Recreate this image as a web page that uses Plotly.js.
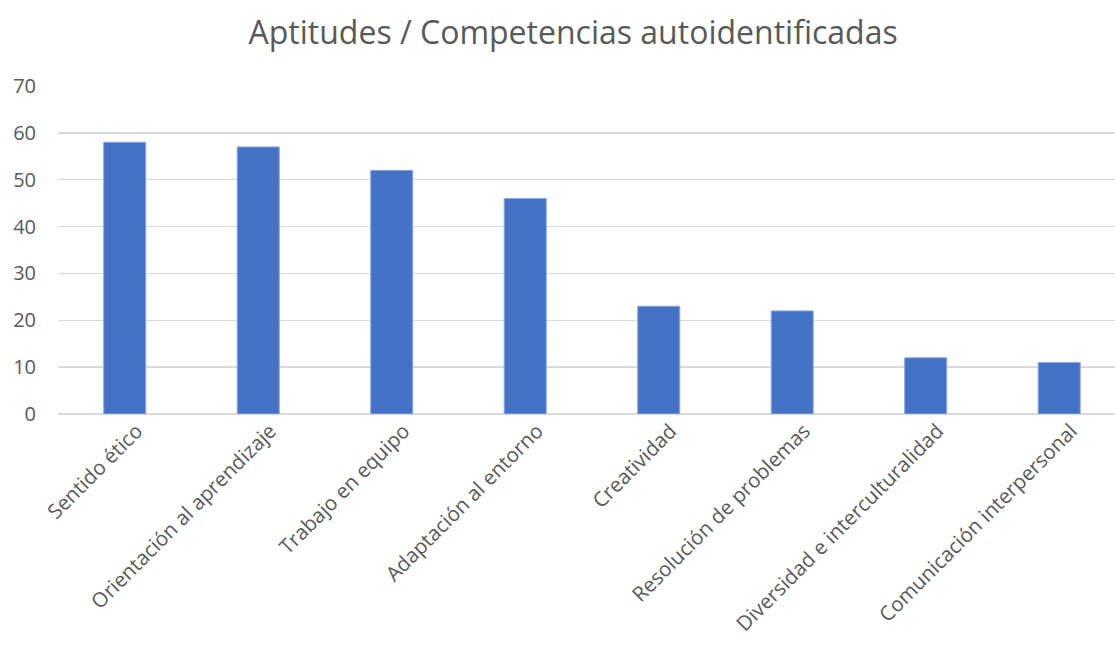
<!DOCTYPE html>
<html>
<head>
<meta charset="utf-8">
<script src="https://cdn.plot.ly/plotly-3.0.1.min.js"></script>
<style>html,body{margin:0;padding:0;background:#fff;}#chart{width:1115px;height:646px;}</style>
</head>
<body>
<div id="chart"></div>
<script>
const categories = ["Sentido ético", "Orientación al aprendizaje", "Trabajo en equipo", "Adaptación al entorno", "Creatividad", "Resolución de problemas", "Diversidad e interculturalidad", "Comunicación interpersonal"];
const values = [58, 57, 52, 46, 23, 22, 12, 11];
const yTicks = [0, 10, 20, 30, 40, 50, 60, 70];

const trace = {
  type: "bar",
  x: categories,
  y: values,
  marker: {color: "#4472C4", line: {color: "#8FAADC", width: 1}},
  width: 0.315,
  hoverinfo: "x+y"
};

const layout = {
  width: 1115,
  height: 646,
  margin: {l: 58, r: 0, t: 86, b: 232},
  paper_bgcolor: "#ffffff",
  plot_bgcolor: "#ffffff",
  font: {family: "Open Sans, sans-serif", color: "#595959"},
  title: {text: "Aptitudes / Competencias autoidentificadas", font: {size: 32, color: "#595959", family: "Open Sans, sans-serif"}, x: 0.514, xanchor: "center", y: 0.95, yanchor: "middle"},
  showlegend: false,
  xaxis: {
    type: "category",
    range: [-0.5, 7.418],
    tickangle: -45,
    tickfont: {size: 20.5, color: "#595959"},
    showgrid: false,
    zeroline: false,
    showline: false,
    ticks: "",
    ticklabelshift: 12,
    ticklabelstandoff: 0
  },
  yaxis: {
    range: [0, 70],
    tickvals: yTicks,
    ticktext: yTicks.map(String),
    tickfont: {size: 20, color: "#595959"},
    showgrid: true,
    gridcolor: "#d9d9d9",
    gridwidth: 1.5,
    zeroline: true,
    zerolinecolor: "#d9d9d9",
    zerolinewidth: 1.5,
    showline: false,
    ticks: "",
    ticklabelstandoff: 21
  }
};

Plotly.newPlot("chart", [trace], layout, {displayModeBar: false, staticPlot: true});
</script>
</body>
</html>
